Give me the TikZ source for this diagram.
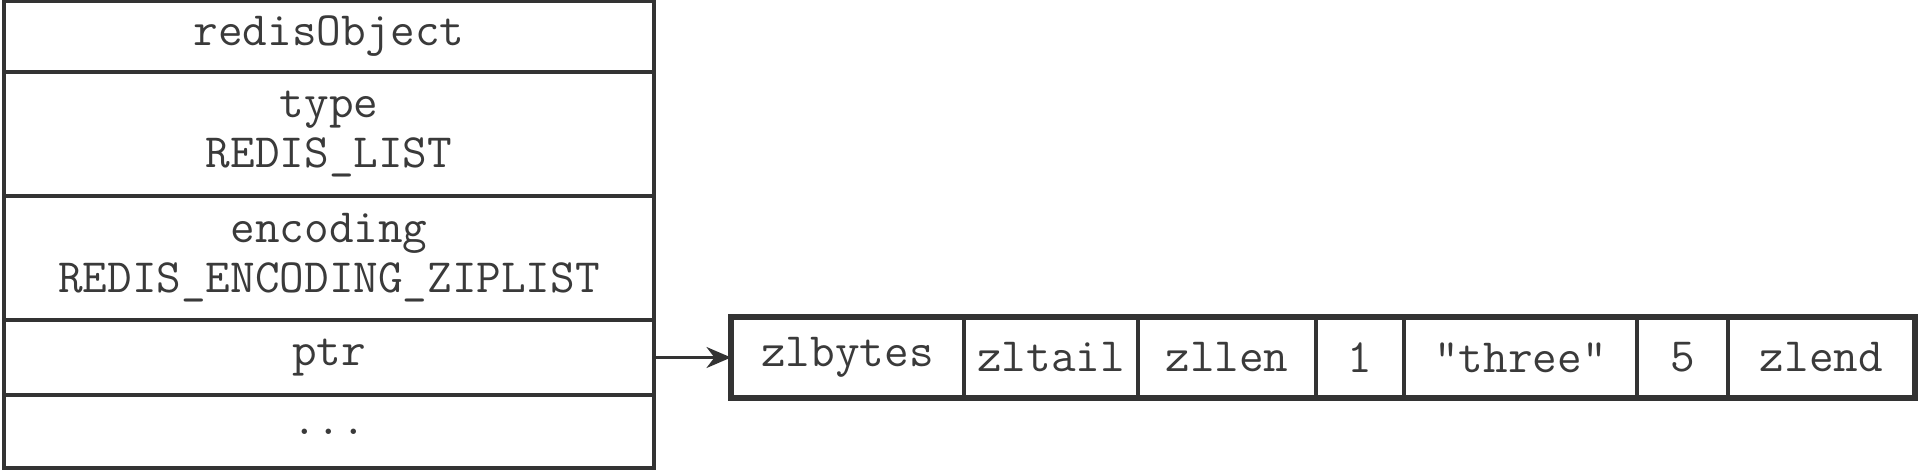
\documentclass[tikz,border=0pt]{standalone}
\usetikzlibrary{positioning,arrows.meta}
\definecolor{inkline}{HTML}{333333}
\definecolor{inktext}{HTML}{3A3A3A}

\begin{document}
\begin{tikzpicture}[
  field/.style={draw=inkline, line width=1.4pt, outer sep=0pt, inner sep=0pt,
    minimum width=6.5cm, align=center, text=inktext,
    font=\ttfamily\fontsize{13.6}{14.2}\selectfont},
  cell/.style={draw=inkline, line width=1.2pt, outer sep=0pt, inner sep=0pt,
    minimum height=0.81cm, text=inktext,
    font=\ttfamily\fontsize{13.6}{14.2}\selectfont},
  ptrarrow/.style={draw=inkline, line width=0.6pt, -{Stealth[length=7pt,width=6pt]}}
]
\useasboundingbox (0,0) rectangle (19.18,4.70);

% redisObject
\node[field, minimum height=0.71cm, anchor=north] (head) at (3.29,4.69) {redisObject};
\node[field, minimum height=1.24cm, below=0pt of head] (type) {type\\REDIS\_LIST};
\node[field, minimum height=1.24cm, below=0pt of type] (enc) {encoding\\REDIS\_ENCODING\_ZIPLIST};
\node[field, minimum height=0.75cm, below=0pt of enc] (ptr) {ptr};
\node[field, minimum height=0.73cm, below=0pt of ptr] (rest) {...};

% ziplist
\node[cell, minimum width=2.33cm, right=0.77cm of ptr] (zlbytes) {zlbytes};
\node[cell, minimum width=1.74cm, right=0pt of zlbytes] (zltail) {zltail};
\node[cell, minimum width=1.78cm, right=0pt of zltail] (zllen) {zllen};
\node[cell, minimum width=0.88cm, right=0pt of zllen] (one) {1};
\node[cell, minimum width=2.33cm, right=0pt of one] (three) {"three"};
\node[cell, minimum width=0.91cm, right=0pt of three] (five) {5};
\node[cell, minimum width=1.87cm, right=0pt of five] (zlend) {zlend};
\draw[inkline, line width=1.6pt] (zlbytes.north west) rectangle (zlend.south east);

\draw[ptrarrow] (ptr.east) -- (zlbytes.west);
\end{tikzpicture}
\end{document}
